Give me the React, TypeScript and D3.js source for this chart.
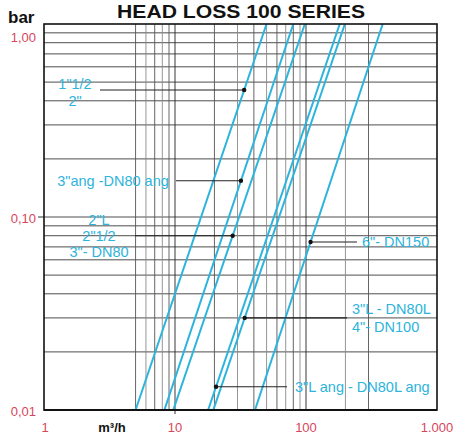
import * as d3 from "d3";

// head loss curves: flow (m³/h) at 0.01 bar and at 1 bar
const curveNames = ['1"1/2 - 2"', '3"ang -DN80 ang', '2"L - 2"1/2 - 3"', '3"L ang', '3"L - 4"', '6"'];
const flowAtLow = [5, 8.3, 9.7, 17.9, 19.6, 40.8];
const flowAtHigh = [50, 80, 98, 181, 198, 385];

// annotation marker head (bar) on each curve
const markerHead = [0.455, 0.154, 0.08, 0.0132, 0.03, 0.0742];
const markerText = [
  ['1"1/2', '2"'],
  ['3"ang -DN80 ang'],
  ['2"L', '2"1/2', '3"- DN80'],
  ['3"L ang - DN80L ang'],
  ['3"L - DN80L', '4"- DN100'],
  ['6"- DN150'],
];

const xGrid = [5, 6, 7, 8, 9, 10, 20, 30, 40, 50, 60, 70, 80, 90, 100, 200, 300];
const yGrid = [0.02, 0.03, 0.04, 0.05, 0.06, 0.07, 0.08, 0.09, 0.1, 0.2, 0.3, 0.4, 0.5, 0.6, 0.7, 0.8, 0.9];
const xTicks = [1, 10, 100, 1000];
const xTickLabels = ["1", "10", "100", "1.000"];
const yTicks = [1, 0.1, 0.01];
const yTickLabels = ["1,00", "0,10", "0,01"];

const width = 456;
const height = 435;
const margin = { top: 24, right: 19, bottom: 25, left: 44 };

const CYAN = "#2db4dc";
const RED = "#d8465c";
const FONT = "'Liberation Sans', Arial, sans-serif";

export default function App() {
  const x = d3.scaleLog().domain([1, 1000]).range([margin.left, width - margin.right]);
  const y = d3.scaleLog().domain([0.01, 1]).range([height - margin.bottom, margin.top]);

  const line = d3
    .line<[number, number]>()
    .x((d) => x(d[0]))
    .y((d) => y(d[1]));

  // flow on curve i for a given head, straight line in log-log space between endpoints
  const flowAt = (i: number, h: number) => {
    const t = (Math.log10(h) + 2) / 2;
    return Math.pow(10, Math.log10(flowAtLow[i]) + t * (Math.log10(flowAtHigh[i]) - Math.log10(flowAtLow[i])));
  };

  // label layout: [text x, anchor, leader end x, first line dy]
  const layout: [number, "start" | "middle" | "end", number, number][] = [
    [75, "middle", 100, -6],
    [113, "middle", 176, 0],
    [99, "middle", 135, -16],
    [295, "start", 287, 0],
    [352, "start", 347, -9],
    [362, "start", 357, 0],
  ];
  const lineGap = [17, 0, 16, 0, 18, 0];

  const [x0, x1] = x.range();
  const [y0, y1] = y.range();

  return (
    <svg width={width} height={height} style={{ position: "absolute", left: 0, top: 0 }} fontFamily={FONT}>
      <rect width={width} height={height} fill="#fff" />
      <defs>
        <clipPath id="plot">
          <rect x={x0} y={y1} width={x1 - x0} height={y0 - y1} />
        </clipPath>
      </defs>

      {/* grid */}
      {yGrid.map((v) => (
        <line key={"h" + v} x1={x0} x2={x1} y1={y(v)} y2={y(v)} stroke="#3a3a3a" strokeWidth={0.9} />
      ))}
      {xGrid.map((v, i) => (
        <line
          key={"v" + v}
          x1={x(v)}
          x2={x(v)}
          y1={y1}
          y2={y0}
          stroke={v === 10 || v === 100 ? "#222" : i % 2 ? "#8a8a8a" : "#555"}
          strokeWidth={0.9}
        />
      ))}
      <line x1={x0 - 6} x2={x0} y1={y(0.1)} y2={y(0.1)} stroke="#333" />
      <line x1={x(10)} x2={x(10)} y1={y0} y2={y0 + 4} stroke="#333" />

      {/* curves */}
      <g clipPath="url(#plot)">
        {flowAtLow.map((q, i) => (
          <path
            key={curveNames[i]}
            d={line([
              [q, 0.01],
              [flowAtHigh[i], 1],
            ])!}
            fill="none"
            stroke={CYAN}
            strokeWidth={2}
          />
        ))}
      </g>

      {/* frame */}
      <rect x={x0} y={y1} width={x1 - x0} height={y0 - y1} fill="none" stroke="#111" strokeWidth={1.6} />
      <line x1={x0} x2={x1} y1={y0} y2={y0} stroke="#111" strokeWidth={2} />

      {/* annotations */}
      {markerHead.map((h, i) => {
        const px = x(flowAt(i, h));
        const py = y(h);
        const [tx, anchor, lx, dy0] = layout[i];
        return (
          <g key={"a" + i}>
            <line x1={Math.min(px, lx)} x2={Math.max(px, lx)} y1={py} y2={py} stroke="#222" strokeWidth={1.1} />
            <circle cx={px} cy={py} r={2.2} fill="#111" />
            {markerText[i].map((t, j) => (
              <text
                key={t}
                x={tx}
                y={py + dy0 + j * lineGap[i]}
                dy="0.35em"
                textAnchor={anchor}
                fontSize={14.5}
                fill={CYAN}
              >
                {t}
              </text>
            ))}
          </g>
        );
      })}

      {/* axes labels */}
      {yTicks.map((v, i) => (
        <text
          key={"yl" + v}
          x={36}
          y={v === 1 ? y(v) + 13 : y(v) + 1}
          dy="0.35em"
          textAnchor="end"
          fontSize={13}
          fill={RED}
        >
          {yTickLabels[i]}
        </text>
      ))}
      {xTicks.map((v, i) => (
        <text key={"xl" + v} x={x(v) + (v === 1 ? 1 : 0)} y={427} dy="0.35em" textAnchor="middle" fontSize={13} fill={RED}>
          {xTickLabels[i]}
        </text>
      ))}
      <text x={112} y={427} dy="0.35em" textAnchor="middle" fontSize={13} fontWeight="bold" fill="#111">
        m³/h
      </text>
      <text x={8} y={23} fontSize={17} fontWeight="bold" fill="#111">
        bar
      </text>
      <text x={241} y={17.5} textAnchor="middle" fontSize={19} fontWeight="bold" fill="#111" textLength={248} lengthAdjust="spacingAndGlyphs">
        HEAD LOSS 100 SERIES
      </text>
    </svg>
  );
}
